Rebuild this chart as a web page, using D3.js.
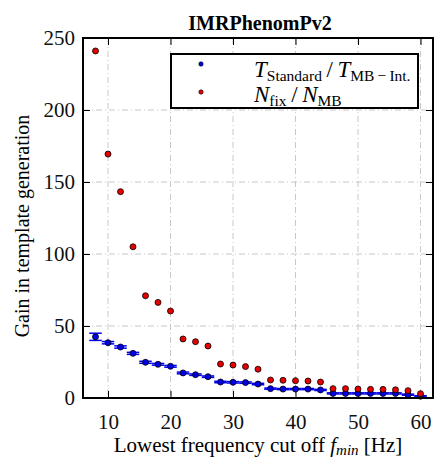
<!DOCTYPE html>
<html>
<head>
<meta charset="utf-8">
<script src="https://cdn.jsdelivr.net/npm/d3@7"></script>
<style>
  body { margin: 0; background: #fff; }
  text { font-family: "Liberation Serif", "DejaVu Serif", serif; }
</style>
</head>
<body>
<svg id="chart" width="448" height="475"></svg>
<script>
// data
const freqs = [8, 10, 12, 14, 16, 18, 20, 22, 24, 26, 28, 30, 32, 34, 36, 38, 40, 42, 44, 46, 48, 50, 52, 54, 56, 58, 60];
const nRatio = [241, 169.4, 143.3, 105, 71, 66.4, 60.4, 41, 39.1, 36.1, 23.6, 22.9, 21.8, 20, 12.5, 12.3, 12, 11.8, 11.1, 6.5, 6.5, 6.2, 6, 6, 5.7, 5.1, 3];
const tRatio = [42.5, 38.4, 35.4, 31, 24.8, 23.4, 22, 17.4, 16.2, 14.8, 11.1, 10.9, 10.7, 9.7, 6.5, 6.2, 6.2, 6.2, 5.6, 3.2, 3.2, 3.2, 3.2, 3.2, 3.2, 2.3, 1.2];
const tErr = [2.5, 0.8, 0.8, 0.7, 0.7, 0.6, 0.6, 0.6, 0.5, 0.5, 0.5, 0.5, 0.5, 0.5, 0.4, 0.4, 0.4, 0.4, 0.4, 0.4, 0.4, 0.4, 0.4, 0.4, 0.4, 0.4, 0.4];
const xTicks = [10, 20, 30, 40, 50, 60];
const yTicks = [0, 50, 100, 150, 200, 250];

const svg = d3.select("svg#chart");
const margin = { top: 38, right: 15, bottom: 77, left: 83 };
const width = +svg.attr("width");
const height = +svg.attr("height");
const chartWidth = width - margin.left - margin.right;
const chartHeight = height - margin.top - margin.bottom;

const x = d3.scaleLinear().domain([6, 62]).range([0, chartWidth]);
const y = d3.scaleLinear().domain([0, 250]).range([chartHeight, 0]);

const chart = svg.append("g").attr("transform", `translate(${margin.left},${margin.top})`);

// gridlines (dash-dot)
chart.append("g").selectAll("line.vg")
  .data(xTicks).join("line")
  .attr("x1", d => x(d)).attr("x2", d => x(d))
  .attr("y1", 0).attr("y2", chartHeight)
  .attr("stroke", "#c8c8c8").attr("stroke-width", 1)
  .attr("stroke-dasharray", "6,3,1,3");
chart.append("g").selectAll("line.hg")
  .data(yTicks).join("line")
  .attr("x1", 0).attr("x2", chartWidth)
  .attr("y1", d => y(d)).attr("y2", d => y(d))
  .attr("stroke", "#c8c8c8").attr("stroke-width", 1)
  .attr("stroke-dasharray", "6,3,1,3");

// axes with inward ticks
const tickLen = 7;
chart.append("g")
  .attr("transform", `translate(0,${chartHeight})`)
  .call(d3.axisBottom(x).tickValues(xTicks).tickSize(-tickLen).tickPadding(tickLen + 9))
  .call(g => g.select(".domain").remove())
  .call(g => g.selectAll("text").attr("font-size", 21).attr("fill", "#111"));
chart.append("g")
  .call(d3.axisTop(x).tickValues(xTicks).tickSize(-tickLen).tickFormat(""))
  .call(g => g.select(".domain").remove());
chart.append("g")
  .call(d3.axisLeft(y).tickValues(yTicks).tickSize(-tickLen).tickPadding(tickLen + 1))
  .call(g => g.select(".domain").remove())
  .call(g => g.selectAll("text").attr("font-size", 21).attr("fill", "#111"));
chart.append("g")
  .attr("transform", `translate(${chartWidth},0)`)
  .call(d3.axisRight(y).tickValues(yTicks).tickSize(-tickLen).tickFormat(""))
  .call(g => g.select(".domain").remove());

// blue error bars (caps of +-1 Hz half width)
const capHalf = x(7) - x(6);
const eb = chart.append("g").attr("stroke", "#0000ee").attr("stroke-width", 1.5);
freqs.forEach((f, i) => {
  const cx = x(f), y1 = y(tRatio[i] + tErr[i]), y2 = y(tRatio[i] - tErr[i]);
  eb.append("line").attr("x1", cx).attr("x2", cx).attr("y1", y1).attr("y2", y2);
  eb.append("line").attr("x1", cx - capHalf).attr("x2", cx + capHalf).attr("y1", y1).attr("y2", y1);
  eb.append("line").attr("x1", cx - capHalf).attr("x2", cx + capHalf).attr("y1", y2).attr("y2", y2);
});

// points
chart.append("g").selectAll("circle")
  .data(freqs).join("circle")
  .attr("cx", d => x(d))
  .attr("cy", (d, i) => y(tRatio[i]))
  .attr("r", 3)
  .attr("fill", "#0000e6").attr("stroke", "#000").attr("stroke-width", 0.8);
chart.append("g").selectAll("circle")
  .data(freqs).join("circle")
  .attr("cx", d => x(d))
  .attr("cy", (d, i) => y(nRatio[i]))
  .attr("r", 3)
  .attr("fill", "#e60000").attr("stroke", "#000").attr("stroke-width", 0.8);

// frame
chart.append("rect")
  .attr("width", chartWidth).attr("height", chartHeight)
  .attr("fill", "none").attr("stroke", "#000").attr("stroke-width", 2);

// legend
const lg = svg.append("g");
lg.append("rect")
  .attr("x", 171).attr("y", 54).attr("width", 247).attr("height", 54)
  .attr("fill", "#fff").attr("stroke", "#000").attr("stroke-width", 2);
lg.append("circle").attr("cx", 201).attr("cy", 64).attr("r", 2.2)
  .attr("fill", "#0000e6").attr("stroke", "#000").attr("stroke-width", 0.6);
lg.append("circle").attr("cx", 201).attr("cy", 92).attr("r", 2.2)
  .attr("fill", "#e60000").attr("stroke", "#000").attr("stroke-width", 0.6);

const t1 = lg.append("text").attr("x", 254).attr("y", 77).attr("font-size", 23);
t1.append("tspan").attr("font-style", "italic").text("T");
t1.append("tspan").attr("font-size", 15.5).attr("dy", 4).text("Standard");
t1.append("tspan").attr("dy", -4).text("\u2009/\u2009");
t1.append("tspan").attr("font-style", "italic").text("T");
t1.append("tspan").attr("font-size", 15.5).attr("dy", 4).text("MB\u2009\u2212\u2009Int.");

const t2 = lg.append("text").attr("x", 254).attr("y", 102).attr("font-size", 23);
t2.append("tspan").attr("font-style", "italic").text("N");
t2.append("tspan").attr("font-size", 15.5).attr("dy", 4).text("fix");
t2.append("tspan").attr("dy", -4).text("\u2009/\u2009");
t2.append("tspan").attr("font-style", "italic").text("N");
t2.append("tspan").attr("font-size", 15.5).attr("dy", 4).text("MB");

// title and axis labels
svg.append("text")
  .attr("x", margin.left + chartWidth / 2 + 2).attr("y", 30)
  .attr("text-anchor", "middle").attr("font-size", 20).attr("font-weight", "bold")
  .text("IMRPhenomPv2");

const xl = svg.append("text")
  .attr("x", margin.left + chartWidth / 2).attr("y", 452)
  .attr("text-anchor", "middle").attr("font-size", 21);
xl.append("tspan").text("Lowest frequency cut off ");
xl.append("tspan").attr("font-style", "italic").text("f");
xl.append("tspan").attr("font-style", "italic").attr("font-size", 15).attr("dy", 3).text("min");
xl.append("tspan").attr("dy", -3).text(" [Hz]");

svg.append("text")
  .attr("transform", `translate(29,${margin.top + chartHeight / 2 + 8}) rotate(-90)`)
  .attr("text-anchor", "middle").attr("font-size", 20)
  .text("Gain in template generation");
</script>
</body>
</html>
